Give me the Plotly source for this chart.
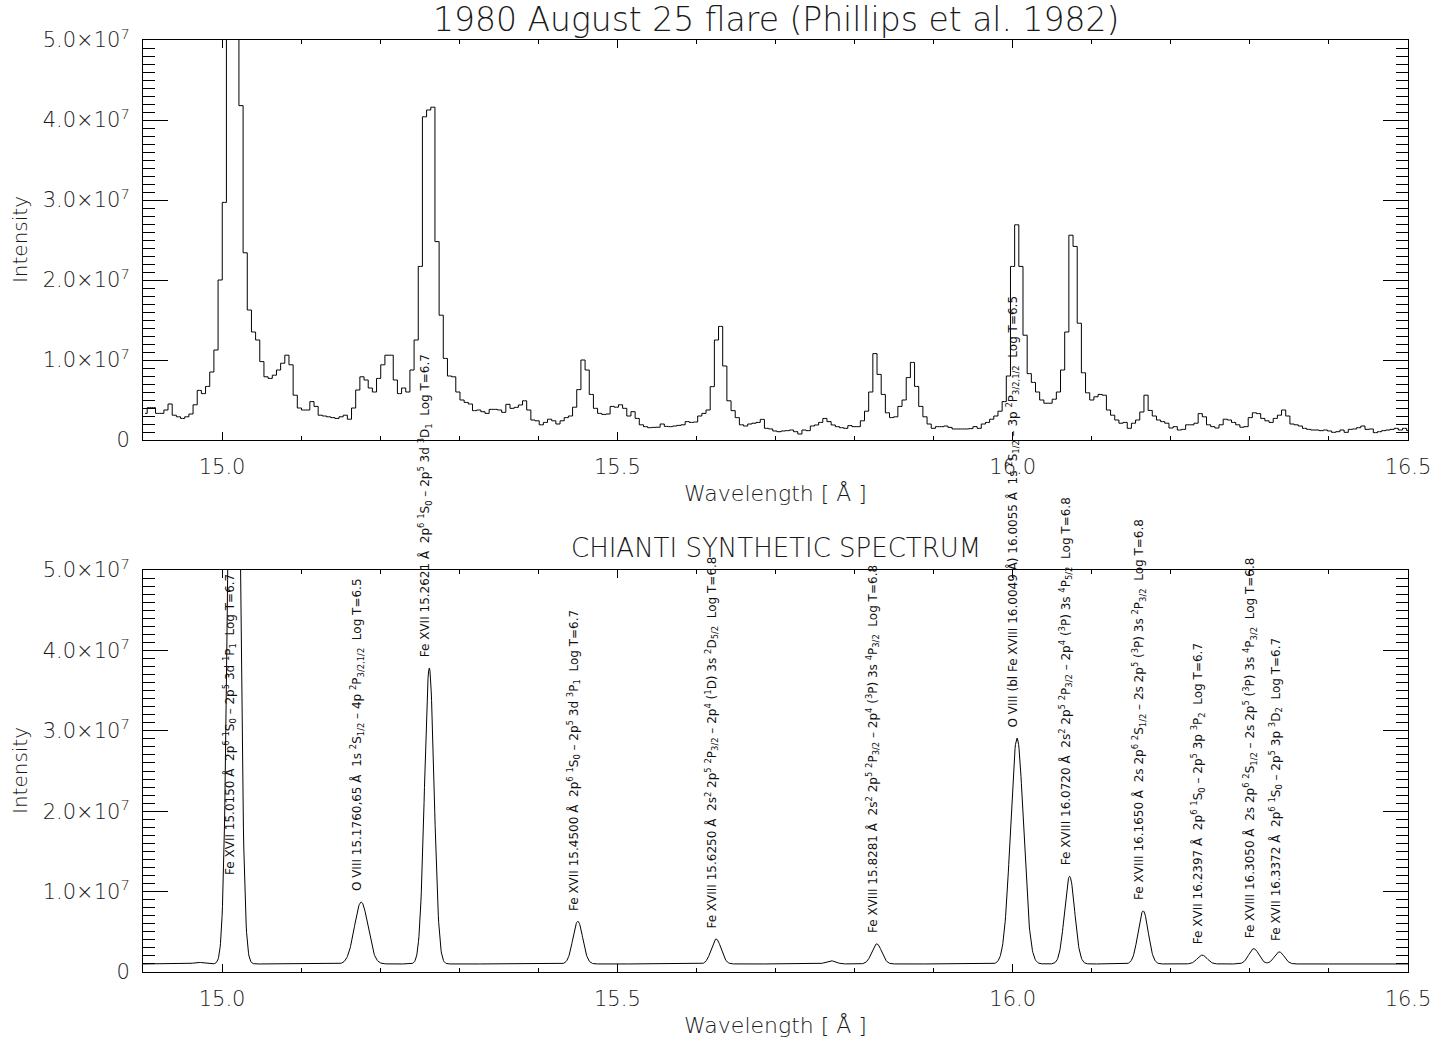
import numpy as np
import plotly.graph_objects as go

# ---------------- data ----------------
# Observed spectrum (Phillips et al. 1982), uniform bins starting at 14.9 A
obs_start = 14.9
obs_step = 0.005275
obs_counts_1e6 = [
    3.33, 4.04, 4.04, 3.33, 3.33, 3.75, 4.5, 3.1, 2.9, 2.7,
    2.9, 3.25, 4.4, 6.2, 5.8, 6.7, 8.5, 11.25, 20.0, 29.7,
    62.0, 80.0, 70.0, 41.8, 23.4, 16.25, 13.5, 12.5, 9.8, 7.9,
    7.7, 8.1, 8.75, 9.6, 10.6, 9.4, 5.6, 4.0, 3.75, 3.75,
    4.8, 4.2, 3.1, 3.0, 2.9, 2.8, 2.7, 2.9, 3.1, 2.6,
    4.0, 6.25, 7.9, 7.5, 6.5, 6.0, 7.7, 9.4, 10.6, 10.6,
    7.5, 5.8, 6.5, 6.0, 8.75, 12.5, 21.7, 40.4, 41.25, 41.6,
    24.8, 15.6, 10.2, 8.0, 7.9, 6.0, 5.0, 4.7, 4.5, 3.67,
    3.75, 3.54, 3.33, 3.83, 3.83, 3.75, 3.46, 4.46, 3.96, 4.08,
    4.38, 4.9, 3.75, 2.5, 2.4, 1.9, 2.2, 2.6, 2.4, 2.0,
    2.4, 2.8, 3.0, 4.1, 6.3, 10.0, 8.75, 5.7, 3.96, 3.33,
    3.2, 3.25, 4.2, 4.1, 4.4, 3.96, 3.0, 3.54, 2.7, 1.9,
    1.67, 1.54, 1.58, 1.6, 2.0, 1.7, 1.67, 1.75, 1.83, 1.9,
    2.3, 2.2, 2.25, 3.0, 3.33, 3.75, 6.67, 12.5, 14.2, 9.25,
    4.9, 3.67, 2.8, 1.9, 1.75, 2.0, 2.1, 2.2, 2.58, 1.46,
    1.38, 1.13, 1.04, 1.13, 1.17, 1.25, 1.04, 0.75, 1.25, 1.17,
    1.75, 1.88, 2.2, 2.7, 2.3, 1.88, 1.67, 1.54, 1.46, 1.8,
    1.67, 1.67, 2.4, 3.6, 6.0, 10.8, 8.2, 5.7, 3.4, 2.8,
    2.9, 4.2, 5.0, 7.8, 9.7, 6.7, 4.2, 2.9, 2.0, 1.46,
    1.67, 1.67, 1.75, 1.58, 1.38, 1.38, 1.38, 1.38, 1.42, 1.67,
    1.46, 2.0, 2.2, 2.6, 3.0, 3.6, 4.8, 8.0, 21.7, 26.9,
    21.7, 13.1, 8.3, 7.2, 6.0, 5.0, 4.6, 4.6, 5.1, 6.0,
    8.75, 13.5, 25.6, 24.2, 14.6, 8.4, 5.9, 5.0, 5.4, 5.7,
    5.6, 3.75, 3.1, 2.5, 2.1, 2.2, 1.46, 2.1, 2.5, 3.5,
    5.6, 3.7, 3.0, 2.5, 2.3, 2.1, 1.5, 1.67, 1.25, 1.33,
    1.9, 1.9, 2.1, 3.3, 2.9, 1.9, 1.67, 1.5, 1.9, 2.6,
    2.5, 2.2, 1.9, 1.6, 1.67, 2.8, 3.4, 3.3, 2.7, 2.4,
    2.2, 2.7, 3.1, 3.75, 3.0, 2.0, 1.9, 1.75, 1.46, 1.33,
    1.25, 1.25, 1.17, 1.25, 1.13, 0.96, 1.04, 1.25, 0.96, 1.33,
    1.38, 1.54, 1.75, 1.33, 1.38, 0.92, 1.04, 1.17, 1.25, 1.33,
    1.46, 1.25, 1.46, 1.17,
]

# CHIANTI synthetic spectrum: line list (wavelength A, peak above continuum, gaussian sigma A)
line_wvl = [14.970, 15.0150, 15.1760, 15.2621, 15.4500, 15.6250, 15.770,
            15.8281, 16.0055, 16.0720, 16.1650, 16.2397, 16.3050, 16.3372]
line_peak_1e7 = [0.02, 11.0, 0.77, 3.68, 0.53, 0.31, 0.04,
                 0.25, 2.81, 1.09, 0.66, 0.11, 0.19, 0.15]
line_sigma = [0.0062, 0.0062, 0.0085, 0.0060, 0.0062, 0.0062, 0.0062,
              0.0062, 0.0082, 0.0064, 0.0064, 0.0062, 0.0064, 0.0062]
continuum_1e7 = 0.10

line_labels = [
    None,
    "Fe XVII 15.0150 Å  2p<sup>6</sup> <sup>1</sup>S<sub>0</sub> – 2p<sup>5</sup> 3d <sup>1</sup>P<sub>1</sub>  Log T=6.7",
    "O VIII 15.1760,65 Å  1s <sup>2</sup>S<sub>1/2</sub> – 4p <sup>2</sup>P<sub>3/2,1/2</sub>  Log T=6.5",
    "Fe XVII 15.2621 Å  2p<sup>6</sup> <sup>1</sup>S<sub>0</sub> – 2p<sup>5</sup> 3d <sup>3</sup>D<sub>1</sub>  Log T=6.7",
    "Fe XVII 15.4500 Å  2p<sup>6</sup> <sup>1</sup>S<sub>0</sub> – 2p<sup>5</sup> 3d <sup>3</sup>P<sub>1</sub>  Log T=6.7",
    "Fe XVIII 15.6250 Å  2s<sup>2</sup> 2p<sup>5</sup> <sup>2</sup>P<sub>3/2</sub> – 2p<sup>4</sup> (<sup>1</sup>D) 3s <sup>2</sup>D<sub>5/2</sub>  Log T=6.8",
    None,
    "Fe XVIII 15.8281 Å  2s<sup>2</sup> 2p<sup>5</sup> <sup>2</sup>P<sub>3/2</sub> – 2p<sup>4</sup> (<sup>3</sup>P) 3s <sup>4</sup>P<sub>3/2</sub>  Log T=6.8",
    "O VIII (bl Fe XVIII 16.0049 Å) 16.0055 Å  1s <sup>2</sup>S<sub>1/2</sub> – 3p <sup>2</sup>P<sub>3/2,1/2</sub>  Log T=6.5",
    "Fe XVIII 16.0720 Å  2s<sup>2</sup> 2p<sup>5</sup> <sup>2</sup>P<sub>3/2</sub> – 2p<sup>4</sup> (<sup>3</sup>P) 3s <sup>4</sup>P<sub>5/2</sub>  Log T=6.8",
    "Fe XVIII 16.1650 Å  2s 2p<sup>6</sup> <sup>2</sup>S<sub>1/2</sub> – 2s 2p<sup>5</sup> (<sup>3</sup>P) 3s <sup>2</sup>P<sub>3/2</sub>  Log T=6.8",
    "Fe XVII 16.2397 Å  2p<sup>6</sup> <sup>1</sup>S<sub>0</sub> – 2p<sup>5</sup> 3p <sup>3</sup>P<sub>2</sub>  Log T=6.7",
    "Fe XVIII 16.3050 Å  2s 2p<sup>6</sup> <sup>2</sup>S<sub>1/2</sub> – 2s 2p<sup>5</sup> (<sup>3</sup>P) 3s <sup>4</sup>P<sub>3/2</sub>  Log T=6.8",
    "Fe XVII 16.3372 Å  2p<sup>6</sup> <sup>1</sup>S<sub>0</sub> – 2p<sup>5</sup> 3p <sup>3</sup>D<sub>2</sub>  Log T=6.7",
]

x_range = [14.9, 16.5]
y_range = [0, 5.0e7]
x_major = [15.0, 15.5, 16.0, 16.5]
x_major_text = ["15.0", "15.5", "16.0", "16.5"]
y_major = [0, 1e7, 2e7, 3e7, 4e7, 5e7]
y_major_text = ["0", "1.0×10<sup>7</sup>", "2.0×10<sup>7</sup>", "3.0×10<sup>7</sup>",
                "4.0×10<sup>7</sup>", "5.0×10<sup>7</sup>"]

title_top = "1980 August 25 flare (Phillips et al. 1982)"
title_bottom = "CHIANTI SYNTHETIC SPECTRUM"
xlabel = "Wavelength [ Å ]"
ylabel = "Intensity"

# ---------------- build ----------------
FONT = "DejaVu Sans"
INK = "#1a1a1a"

obs_x = obs_start + obs_step * (np.arange(len(obs_counts_1e6)) + 0.5)
obs_y = np.array(obs_counts_1e6) * 1e6

wgrid = np.linspace(x_range[0], x_range[1], 3201)
syn = np.full_like(wgrid, continuum_1e7 * 1e7)
for l, p, s in zip(line_wvl, line_peak_1e7, line_sigma):
    syn += p * 1e7 * np.exp(-0.5 * ((wgrid - l) / s) ** 2)

fig = go.Figure()
fig.add_trace(go.Scatter(x=obs_x, y=obs_y, mode="lines", line=dict(color="black", width=1, shape="hvh"),
                         xaxis="x", yaxis="y", showlegend=False, hoverinfo="skip"))
fig.add_trace(go.Scatter(x=wgrid, y=syn, mode="lines", line=dict(color="black", width=1),
                         xaxis="x2", yaxis="y2", showlegend=False, hoverinfo="skip"))

x_minor = [round(14.9 + 0.1 * i, 1) for i in range(17)]
x_minor = [v for v in x_minor if v not in x_major]
y_minor = [i * 1e6 for i in range(51) if i % 10 != 0]

tickfont = dict(family=FONT, size=21, color=INK, weight=200)


def xaxis_cfg(anchor):
    return dict(range=x_range, anchor=anchor, showline=True, linecolor="black", linewidth=1,
                mirror="ticks", ticks="inside", ticklen=8, tickwidth=1, tickcolor="black",
                tickmode="array", tickvals=x_major, ticktext=x_major_text, tickfont=tickfont,
                showgrid=False, zeroline=False, ticklabelstandoff=8,
                minor=dict(tickmode="array", tickvals=x_minor, ticks="inside", ticklen=4,
                           tickcolor="black", tickwidth=1, showgrid=False))


def yaxis_cfg(anchor, domain):
    return dict(range=y_range, domain=domain, anchor=anchor, showline=True, linecolor="black",
                linewidth=1, mirror="ticks", ticks="inside", ticklen=25, tickwidth=1,
                tickcolor="black", tickmode="array", tickvals=y_major, ticktext=y_major_text,
                tickfont=tickfont, showgrid=False, zeroline=False, ticklabelstandoff=8,
                minor=dict(tickmode="array", tickvals=y_minor, ticks="inside", ticklen=12,
                           tickcolor="black", tickwidth=1, showgrid=False))


fig.update_layout(
    width=1449, height=1043,
    margin=dict(l=143, r=41, t=40, b=71),
    paper_bgcolor="white", plot_bgcolor="white",
    xaxis=xaxis_cfg("y"),
    yaxis=yaxis_cfg("x", [0.5708, 1.0]),
    xaxis2=xaxis_cfg("y2"),
    yaxis2=yaxis_cfg("x2", [0.0, 0.4313]),
    showlegend=False,
)

ann = []
# titles
ann.append(dict(text=title_top, xref="paper", yref="paper", x=0.5, y=1.0429, xanchor="center",
                yanchor="top", showarrow=False, borderpad=0, borderwidth=0,
                font=dict(family=FONT, size=33, color=INK, weight=200)))
ann.append(dict(text=title_bottom, xref="paper", yref="paper", x=0.5, y=0.4549, xanchor="center",
                yanchor="middle", showarrow=False, font=dict(family=FONT, size=26, color=INK, weight=200)))
for yc in (0.5129, -0.0569):
    ann.append(dict(text=xlabel, xref="paper", yref="paper", x=0.5, y=yc, xanchor="center",
                    yanchor="middle", showarrow=False, font=dict(family=FONT, size=22, color=INK, weight=200)))
for yc in (0.7854, 0.2157):
    ann.append(dict(text=ylabel, xref="paper", yref="paper", x=-0.0972, y=yc, xanchor="center",
                    yanchor="middle", textangle=-90, showarrow=False,
                    font=dict(family=FONT, size=20, color=INK, weight=200)))

# line labels on the synthetic spectrum
for l, p, txt in zip(line_wvl, line_peak_1e7, line_labels):
    if txt is None:
        continue
    top = p + continuum_1e7
    ybase = (top + 0.12 if top < 5.0 else 1.2) * 1e7
    ann.append(dict(text=txt.replace("  ", "\u00a0\u00a0"), xref="x2", yref="y2", x=l, y=ybase,
                    xanchor="center", yanchor="bottom", textangle=-90, showarrow=False,
                    xshift=-4, borderpad=0,
                    font=dict(family=FONT, size=12, color="#111111")))

fig.update_layout(annotations=ann)
fig.write_html("out.html", config={"displayModeBar": False},
               post_script="document.body.style.margin='0px';")
